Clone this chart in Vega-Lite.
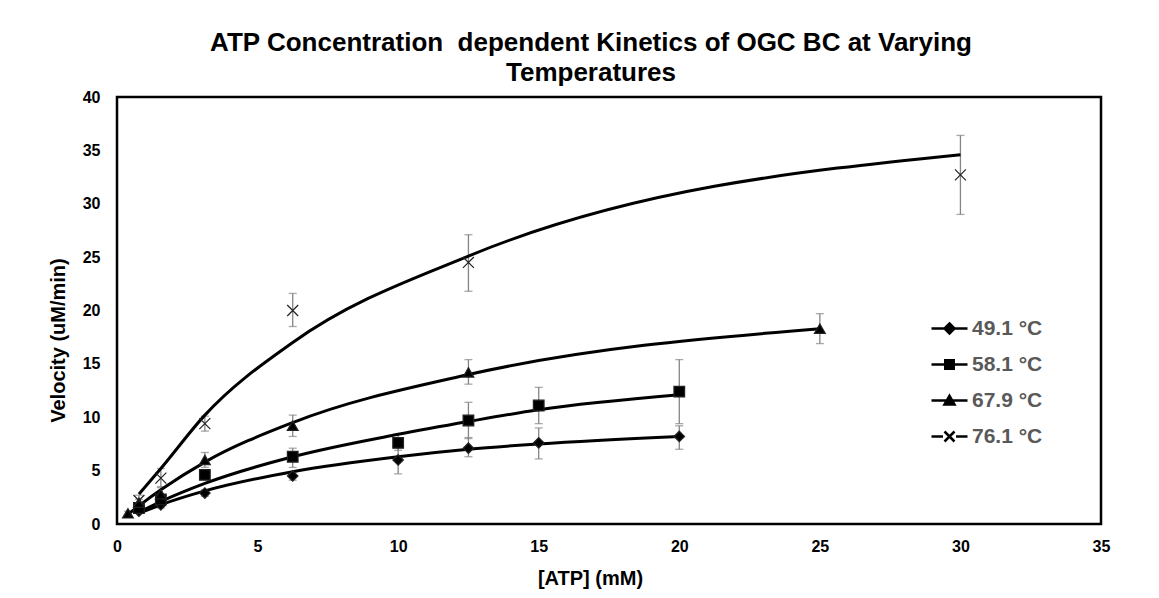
{
  "$schema": "https://vega.github.io/schema/vega-lite/v6.json",
  "width": 984,
  "height": 427,
  "autosize": "none",
  "padding": {"left": 117, "top": 97, "right": 58, "bottom": 74},
  "background": "white",
  "title": {
    "text": ["ATP Concentration\u00a0 dependent Kinetics of OGC BC at Varying", "Temperatures"],
    "anchor": "middle",
    "dx": -18,
    "offset": 3,
    "font": "Liberation Sans",
    "fontSize": 26,
    "fontWeight": "bold",
    "color": "black",
    "lineHeight": 30
  },
  "datasets": {
    "pts": [
      {"atp": 0.78, "v": 1.2, "lo": 1.0, "hi": 1.4, "series": "49.1 °C"},
      {"atp": 1.56, "v": 1.8, "lo": 1.5, "hi": 2.1, "series": "49.1 °C"},
      {"atp": 3.125, "v": 2.9, "lo": 2.6, "hi": 3.2, "series": "49.1 °C"},
      {"atp": 6.25, "v": 4.5, "lo": 4.1, "hi": 4.9, "series": "49.1 °C"},
      {"atp": 10, "v": 6.0, "lo": 4.7, "hi": 7.3, "series": "49.1 °C"},
      {"atp": 12.5, "v": 7.1, "lo": 6.3, "hi": 8.1, "series": "49.1 °C"},
      {"atp": 15, "v": 7.6, "lo": 6.1, "hi": 9.0, "series": "49.1 °C"},
      {"atp": 20, "v": 8.2, "lo": 7.0, "hi": 9.2, "series": "49.1 °C"},
      {"atp": 0.78, "v": 1.5, "lo": 1.2, "hi": 1.8, "series": "58.1 °C"},
      {"atp": 1.56, "v": 2.3, "lo": 1.9, "hi": 2.7, "series": "58.1 °C"},
      {"atp": 3.125, "v": 4.6, "lo": 4.2, "hi": 5.0, "series": "58.1 °C"},
      {"atp": 6.25, "v": 6.3, "lo": 5.3, "hi": 7.1, "series": "58.1 °C"},
      {"atp": 10, "v": 7.6, "lo": 6.9, "hi": 8.4, "series": "58.1 °C"},
      {"atp": 12.5, "v": 9.7, "lo": 8.0, "hi": 11.4, "series": "58.1 °C"},
      {"atp": 15, "v": 11.1, "lo": 9.4, "hi": 12.8, "series": "58.1 °C"},
      {"atp": 20, "v": 12.4, "lo": 9.4, "hi": 15.4, "series": "58.1 °C"},
      {"atp": 0.39, "v": 1.0, "lo": 0.8, "hi": 1.2, "series": "67.9 °C"},
      {"atp": 0.78, "v": 2.0, "lo": 1.7, "hi": 2.3, "series": "67.9 °C"},
      {"atp": 1.56, "v": 2.8, "lo": 2.2, "hi": 3.4, "series": "67.9 °C"},
      {"atp": 3.125, "v": 6.0, "lo": 5.3, "hi": 6.7, "series": "67.9 °C"},
      {"atp": 6.25, "v": 9.2, "lo": 8.2, "hi": 10.2, "series": "67.9 °C"},
      {"atp": 12.5, "v": 14.2, "lo": 13.1, "hi": 15.4, "series": "67.9 °C"},
      {"atp": 25, "v": 18.3, "lo": 16.9, "hi": 19.7, "series": "67.9 °C"},
      {"atp": 0.78, "v": 2.2, "lo": 1.7, "hi": 2.7, "series": "76.1 °C"},
      {"atp": 1.56, "v": 4.3, "lo": 3.5, "hi": 5.2, "series": "76.1 °C"},
      {"atp": 3.125, "v": 9.4, "lo": 8.7, "hi": 10.1, "series": "76.1 °C"},
      {"atp": 6.25, "v": 20.0, "lo": 18.5, "hi": 21.6, "series": "76.1 °C"},
      {"atp": 12.5, "v": 24.5, "lo": 21.8, "hi": 27.1, "series": "76.1 °C"},
      {"atp": 30, "v": 32.7, "lo": 29.0, "hi": 36.4, "series": "76.1 °C"}
    ],
    "fit": [
      {"atp": 0.78, "v": 1.0, "series": "49.1 °C"},
      {"atp": 1.56, "v": 1.8, "series": "49.1 °C"},
      {"atp": 3.125, "v": 3.1, "series": "49.1 °C"},
      {"atp": 6.25, "v": 4.9, "series": "49.1 °C"},
      {"atp": 10, "v": 6.3, "series": "49.1 °C"},
      {"atp": 12.5, "v": 7.0, "series": "49.1 °C"},
      {"atp": 15, "v": 7.5, "series": "49.1 °C"},
      {"atp": 20, "v": 8.2, "series": "49.1 °C"},
      {"atp": 0.78, "v": 1.1, "series": "58.1 °C"},
      {"atp": 1.56, "v": 2.1, "series": "58.1 °C"},
      {"atp": 3.125, "v": 3.8, "series": "58.1 °C"},
      {"atp": 6.25, "v": 6.3, "series": "58.1 °C"},
      {"atp": 10, "v": 8.4, "series": "58.1 °C"},
      {"atp": 12.5, "v": 9.6, "series": "58.1 °C"},
      {"atp": 15, "v": 10.7, "series": "58.1 °C"},
      {"atp": 20, "v": 12.1, "series": "58.1 °C"},
      {"atp": 0.39, "v": 0.9, "series": "67.9 °C"},
      {"atp": 0.78, "v": 1.7, "series": "67.9 °C"},
      {"atp": 1.56, "v": 3.2, "series": "67.9 °C"},
      {"atp": 3.125, "v": 5.8, "series": "67.9 °C"},
      {"atp": 6.25, "v": 9.5, "series": "67.9 °C"},
      {"atp": 12.5, "v": 14.0, "series": "67.9 °C"},
      {"atp": 25, "v": 18.3, "series": "67.9 °C"},
      {"atp": 0.78, "v": 2.8, "series": "76.1 °C"},
      {"atp": 1.56, "v": 5.2, "series": "76.1 °C"},
      {"atp": 3.125, "v": 10.2, "series": "76.1 °C"},
      {"atp": 6.25, "v": 17.0, "series": "76.1 °C"},
      {"atp": 12.5, "v": 25.1, "series": "76.1 °C"},
      {"atp": 30, "v": 34.6, "series": "76.1 °C"}
    ],
    "legendrows": [
      {"name": "49.1 °C"},
      {"name": "58.1 °C"},
      {"name": "67.9 °C"},
      {"name": "76.1 °C"}
    ]
  },
  "encoding": {
    "x": {
      "field": "atp", "type": "quantitative",
      "scale": {"domain": [0, 35], "nice": false, "zero": true},
      "axis": {
        "title": "[ATP] (mM)",
        "values": [0, 5, 10, 15, 20, 25, 30, 35],
        "grid": false, "ticks": false, "domain": false,
        "labelFont": "Liberation Sans", "labelFontSize": 16, "labelFontWeight": "bold", "labelColor": "black",
        "labelPadding": 14, "labelFlush": false,
        "titleFont": "Liberation Sans", "titleFontSize": 20, "titleFontWeight": "bold", "titleColor": "black",
        "titleX": 473, "titleY": 44, "titleBaseline": "top"
      }
    },
    "y": {
      "field": "v", "type": "quantitative",
      "scale": {"domain": [0, 40], "nice": false},
      "axis": {
        "title": "Velocity (uM/min)",
        "values": [0, 5, 10, 15, 20, 25, 30, 35, 40],
        "grid": false, "ticks": false, "domain": false,
        "labelFont": "Liberation Sans", "labelFontSize": 16, "labelFontWeight": "bold", "labelColor": "black",
        "labelPadding": 17, "labelFlush": false,
        "titleFont": "Liberation Sans", "titleFontSize": 20, "titleFontWeight": "bold", "titleColor": "black",
        "titleY": 243, "titlePadding": 14
      }
    }
  },
  "layer": [
    {
      "data": {"name": "pts"},
      "mark": {"type": "errorbar", "ticks": {"size": 8, "color": "#858585", "thickness": 1.3}, "rule": {"color": "#858585", "strokeWidth": 1.3}},
      "encoding": {
        "y": {"field": "lo", "type": "quantitative"},
        "y2": {"field": "hi"}
      }
    },
    {
      "data": {"name": "fit"},
      "mark": {"type": "line", "interpolate": "monotone", "color": "black"},
      "encoding": {
        "detail": {"field": "series"},
        "strokeWidth": {
          "field": "series", "type": "nominal",
          "scale": {"domain": ["49.1 °C", "58.1 °C", "67.9 °C", "76.1 °C"], "range": [3, 3, 2, 2]},
          "legend": null
        }
      }
    },
    {
      "data": {"name": "pts"},
      "mark": {"type": "point", "filled": true, "fill": "black", "stroke": "#222222", "strokeWidth": 1.2, "opacity": 1},
      "encoding": {
        "shape": {
          "field": "series", "type": "nominal",
          "scale": {"domain": ["49.1 °C", "58.1 °C", "67.9 °C", "76.1 °C"], "range": ["diamond", "square", "triangle-up", "M-1,-1L1,1M-1,1L1,-1"]},
          "legend": null
        },
        "size": {
          "field": "series", "type": "nominal",
          "scale": {"domain": ["49.1 °C", "58.1 °C", "67.9 °C", "76.1 °C"], "range": [110, 120, 170, 130]},
          "legend": null
        }
      }
    },
    {
      "data": {"name": "legendrows"},
      "mark": {"type": "point", "filled": false, "color": "black", "strokeWidth": 2.5, "opacity": 1},
      "encoding": {
        "shape": {
          "field": "name", "type": "nominal",
          "scale": {"domain": ["49.1 °C", "58.1 °C", "67.9 °C", "76.1 °C"], "range": [
            "M-3.6,0H3.6M0,-1L1,0L0,1L-1,0ZM-0.6,-0.4H0.6M-0.6,0.4H0.6M-0.2,-0.8H0.2M-0.2,0.8H0.2",
            "M-3.6,0H3.6M-0.85,-0.85H0.85V0.85H-0.85ZM-0.85,-0.4H0.85M-0.85,0.4H0.85",
            "M-3.6,0H3.6M0,-0.95L1,0.8H-1ZM-0.77,0.4H0.77M-0.31,-0.4H0.31",
            "M-3.6,0H-1.3M1.3,0H3.6M-1,-1L1,1M-1,1L1,-1"
          ]},
          "legend": {
            "title": null,
            "orient": "none",
            "legendX": 822,
            "legendY": 221,
            "padding": 0,
            "symbolSize": 100,
            "symbolStrokeWidth": 2.5,
            "symbolStrokeColor": "black",
            "symbolOpacity": 1,
            "labelFont": "Liberation Sans",
            "labelFontSize": 21,
            "labelFontWeight": "bold",
            "labelColor": "#595959",
            "labelOffset": 12,
            "rowPadding": 14,
            "labelLimit": 300
          }
        }
      }
    }
  ],
  "resolve": {"scale": {"shape": "independent", "size": "independent"}},
  "config": {
    "view": {"stroke": "black", "strokeWidth": 2.5}
  }
}
